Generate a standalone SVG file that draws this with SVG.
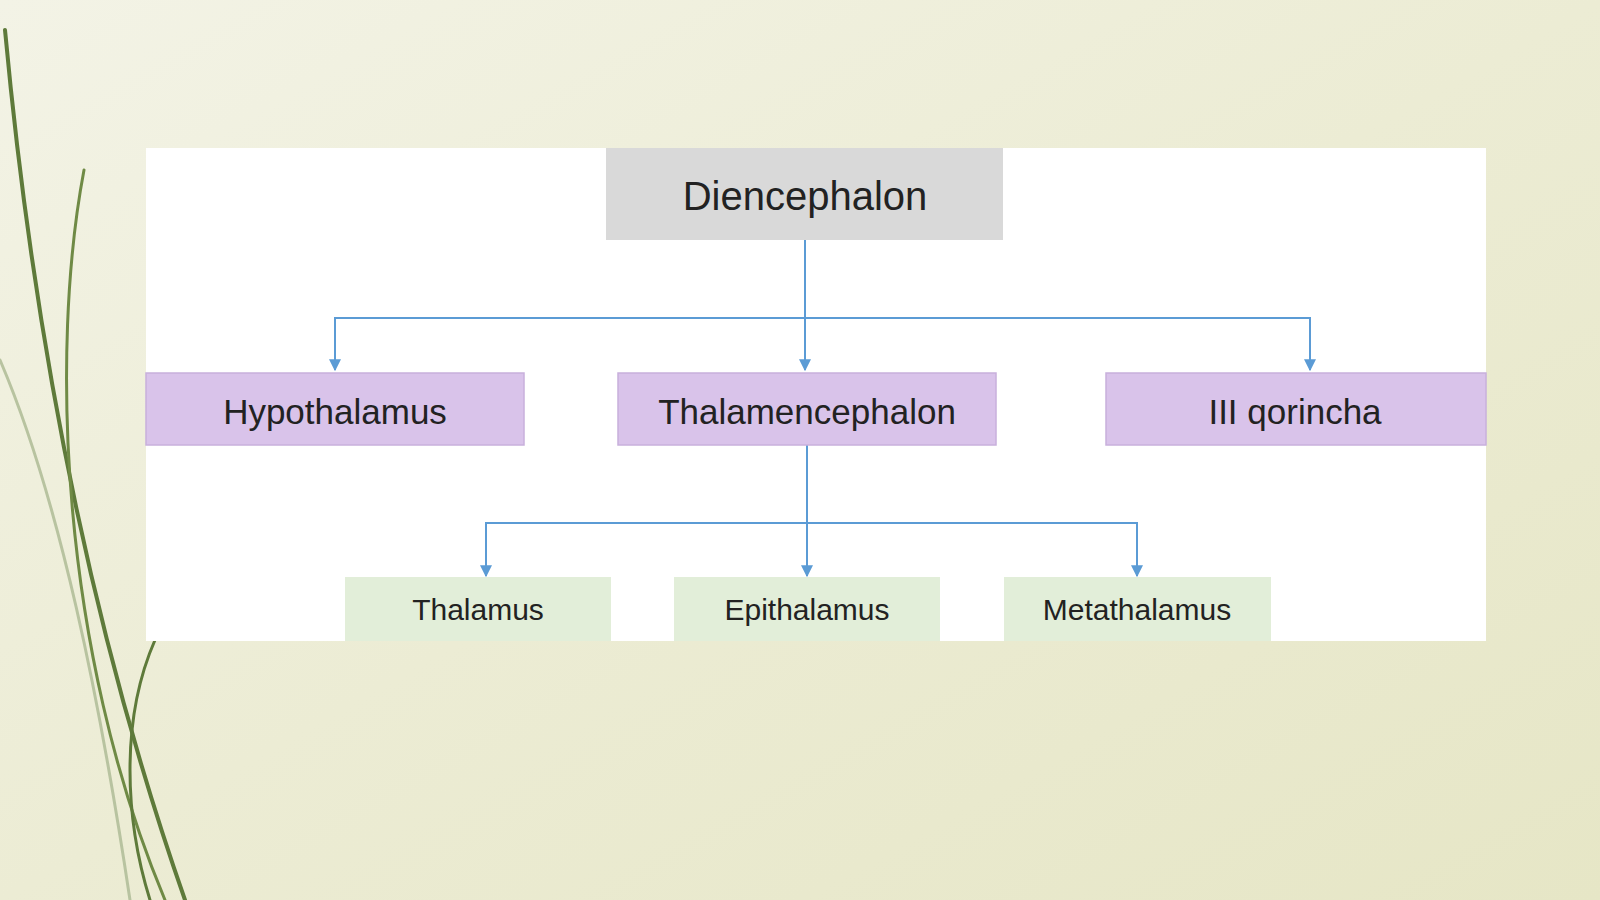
<svg xmlns="http://www.w3.org/2000/svg" width="1600" height="900" viewBox="0 0 1600 900">
<defs>
<linearGradient id="bg" x1="0" y1="0" x2="1" y2="1">
<stop offset="0" stop-color="#f3f3e6"/><stop offset="0.5" stop-color="#ececd4"/><stop offset="1" stop-color="#e6e6c6"/>
</linearGradient>
<marker id="ah" viewBox="0 0 10 10" refX="9" refY="5" markerWidth="6" markerHeight="6" orient="auto"><path d="M0,0L10,5L0,10z" fill="#5b9bd5"/></marker>
<style>
.t{font-family:"Liberation Sans",Arial,sans-serif;fill:#222;text-anchor:middle;dominant-baseline:central}
.p{fill:#d9c3ea;stroke:#c8b0dc;stroke-width:1.5}
.g{fill:#e2eed9}
.c{fill:none;stroke:#5b9bd5;stroke-width:2}
</style>
</defs>
<rect width="1600" height="900" fill="url(#bg)"/>
<g fill="none" stroke-linecap="round">
<path d="M5,30 C30,300 80,600 185,900" stroke="#5e7a3a" stroke-width="4"/>
<path d="M84,170 C50,350 60,650 165,900" stroke="#6f8a45" stroke-width="3"/>
<path d="M155,640 C120,720 125,820 150,900" stroke="#5e7a3a" stroke-width="3"/>
<path d="M0,360 C60,500 100,700 130,900" stroke="#b8c3a0" stroke-width="3"/>
</g>
<rect x="146" y="148" width="1340" height="493" fill="#ffffff"/>
<g id="connectors">
<path class="c" d="M805,240V367"/>
<path class="c" d="M335,367V318H1310V370" marker-end="url(#ah)"/>
<path class="c" d="M335,330V370" marker-end="url(#ah)"/>
<path class="c" d="M805,330V370" marker-end="url(#ah)"/>
<path class="c" d="M807,445V576" marker-end="url(#ah)"/>
<path class="c" d="M486,575V523H1137V576" marker-end="url(#ah)"/>
<path class="c" d="M486,535V576" marker-end="url(#ah)"/>
</g>
<g id="n-dience"><rect x="606" y="148" width="397" height="92" fill="#d9d9d9"/><text class="t" x="805" y="196" font-size="40">Diencephalon</text></g>
<g id="n-hypo"><rect class="p" x="146" y="373" width="378" height="72"/><text class="t" x="335" y="411" font-size="35">Hypothalamus</text></g>
<g id="n-thalamen"><rect class="p" x="618" y="373" width="378" height="72"/><text class="t" x="807" y="411" font-size="35">Thalamencephalon</text></g>
<g id="n-iii"><rect class="p" x="1106" y="373" width="380" height="72"/><text class="t" x="1295" y="411" font-size="35">III qorincha</text></g>
<g id="n-thal"><rect class="g" x="345" y="577" width="266" height="64"/><text class="t" x="478" y="609" font-size="30">Thalamus</text></g>
<g id="n-epi"><rect class="g" x="674" y="577" width="266" height="64"/><text class="t" x="807" y="609" font-size="30">Epithalamus</text></g>
<g id="n-meta"><rect class="g" x="1004" y="577" width="267" height="64"/><text class="t" x="1137" y="609" font-size="30">Metathalamus</text></g>
</svg>
